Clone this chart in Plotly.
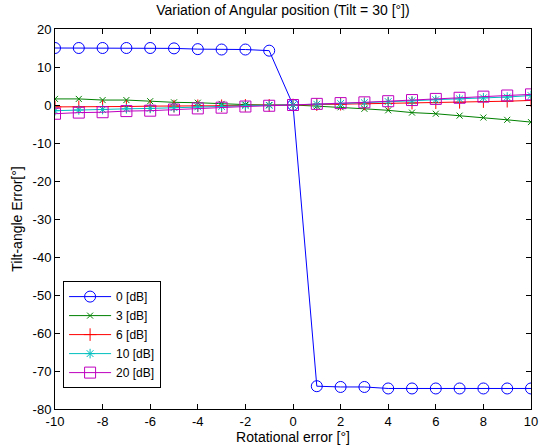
import plotly.graph_objects as go

x = list(range(-10, 11))
y0 = [15.0, 15.0, 15.0, 15.0, 15.0, 14.9, 14.7, 14.6, 14.6, 14.3, 0.0,
      -74.0, -74.2, -74.2, -74.6, -74.6, -74.6, -74.6, -74.6, -74.6, -74.6]
y3 = [1.6, 1.6, 1.3, 1.3, 1.0, 0.7, 0.6, 0.3, 0.1, 0.0, 0.0,
      -0.3, -0.6, -1.0, -1.4, -2.0, -2.3, -2.8, -3.3, -3.9, -4.5]
y6 = [-0.5, -0.5, -0.4, -0.4, -0.3, -0.3, -0.2, -0.2, -0.1, -0.1, 0.0,
      0.1, 0.2, 0.3, 0.4, 0.5, 0.6, 0.7, 0.9, 1.0, 1.2]
y10 = [-1.5, -1.3, -1.2, -1.0, -0.9, -0.7, -0.5, -0.4, -0.2, -0.1, 0.0,
       0.2, 0.4, 0.6, 0.9, 1.1, 1.4, 1.6, 1.9, 2.1, 2.5]
y20 = [-2.3, -2.0, -1.9, -1.6, -1.5, -1.2, -0.9, -0.7, -0.4, -0.2, 0.0,
       0.3, 0.5, 0.7, 1.0, 1.3, 1.6, 1.9, 2.2, 2.5, 2.8]
names = ["0 [dB]", "3 [dB]", "6 [dB]", "10 [dB]", "20 [dB]"]
xticks = [-10, -8, -6, -4, -2, 0, 2, 4, 6, 8, 10]
yticks = [-80, -70, -60, -50, -40, -30, -20, -10, 0, 10, 20]

series = [y0, y3, y6, y10, y20]
colors = ["#0000FF", "#008000", "#FF0000", "#00BFBF", "#BF00BF"]
symbols = ["circle-open", "x-thin-open", "cross-thin-open", "asterisk-open", "square-open"]
sizes = [11, 6, 9, 8, 11]

FONT = "Liberation Sans, Arial"

fig = go.Figure()
for ys, n, c, s, sz in zip(series, names, colors, symbols, sizes):
    fig.add_trace(go.Scatter(
        x=x, y=ys, name=n, mode="lines+markers",
        line=dict(color=c, width=1),
        marker=dict(symbol=s, size=sz, color=c, line=dict(color=c, width=1)),
    ))

axis_common = dict(
    showline=True, linecolor="black", linewidth=1, mirror="ticks",
    ticks="inside", ticklen=5, tickcolor="black", showgrid=False,
    zeroline=False, automargin=False,
    tickfont=dict(family=FONT, size=13, color="black"),
)
fig.update_layout(
    width=540, height=447,
    margin=dict(l=55, r=9, t=29, b=38),
    paper_bgcolor="white", plot_bgcolor="white",
    title=dict(text="Variation of Angular position (Tilt = 30 [°])",
               x=0.524, xanchor="center", y=0.988, yanchor="top",
               font=dict(family=FONT, size=14, color="black")),
    xaxis=dict(range=[-10, 10], tickvals=xticks,
               ticktext=[str(v) for v in xticks],
               title=dict(text="Rotational error [°]", standoff=1,
                          font=dict(family=FONT, size=14, color="black")),
               **axis_common),
    yaxis=dict(range=[-80, 20], tickvals=yticks,
               ticktext=[str(v) for v in yticks],
               title=dict(text="Tilt-angle Error[°]", standoff=6,
                          font=dict(family=FONT, size=14, color="black")),
               **axis_common),
    legend=dict(x=0.017, y=0.055, xanchor="left", yanchor="bottom",
                bgcolor="white", bordercolor="black", borderwidth=1,
                font=dict(family=FONT, size=12, color="black"),
                tracegroupgap=0, itemwidth=42),
    showlegend=True,
)
fig.write_html("out.html")
